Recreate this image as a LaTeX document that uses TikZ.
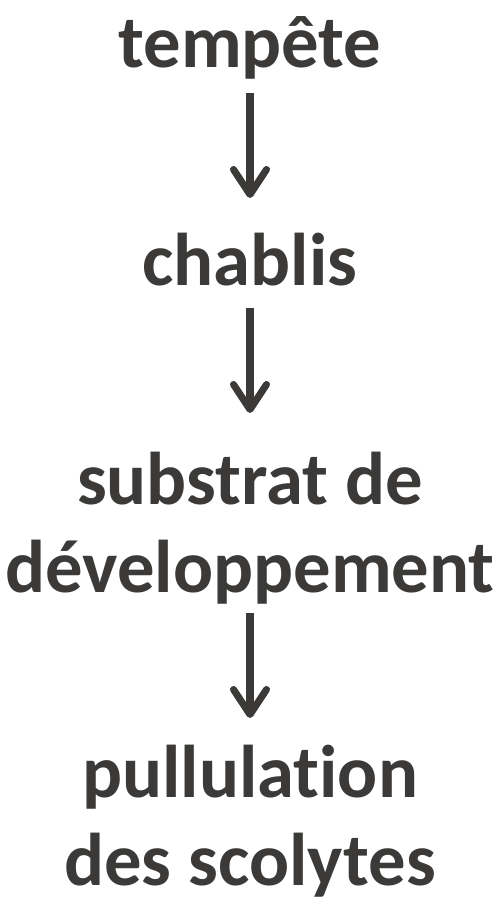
\documentclass[tikz,border=0pt]{standalone}
\usepackage{fontspec}
\setmainfont{Carlito}[Ligatures={NoCommon}]
\usetikzlibrary{arrows.meta, positioning, calc}
\definecolor{textgrey}{HTML}{3B3A39}
\tikzset{stage/.style={inner sep=0pt, font=\fontsize{42.5}{50}\selectfont\bfseries, text=textgrey, align=center, anchor=base}}
\tikzset{flow/.style={draw=textgrey, line width=4pt, -{Straight Barb[length=5mm, width=6.6mm, round]}}}

\begin{document}
\begin{tikzpicture}
        \useasboundingbox (0, 0) rectangle (10, -18.04);
        \begin{scope}
            \node[stage] (Ntempete) at (5, -1.34) {tempête};
            \node[stage] (Nchablis) at (5, -5.70) {chablis};
            \node[stage] (Nsubstrat) at (5, -11.84) {substrat de\\développement};
            \node[stage] (Npullulation) at (5, -17.70) {pullulation\\des scolytes};

            \draw [flow] ([yshift=-0.52cm]Ntempete.base) -- ([yshift=1.74cm]Nchablis.base);
            \draw [flow] ([yshift=-0.46cm]Nchablis.base) -- ([yshift=3.58cm]Nsubstrat.base);
            \draw [flow] ([yshift=-0.42cm]Nsubstrat.base) -- ([yshift=3.34cm]Npullulation.base);
        \end{scope}
    \end{tikzpicture}
\end{document}
